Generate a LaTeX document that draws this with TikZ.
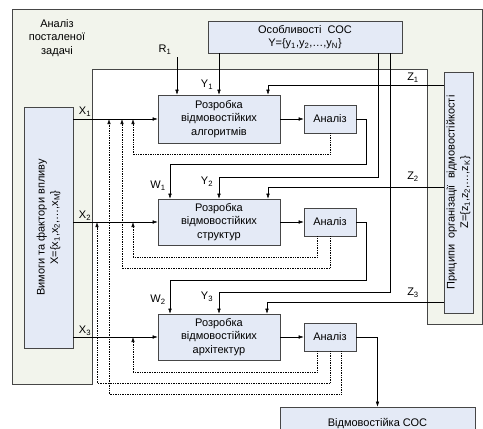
\documentclass[tikz,border=0pt]{standalone}
\usepackage{fontspec}
\setmainfont{Liberation Sans}
\usepackage{tikz}
\usetikzlibrary{arrows.meta, positioning, calc}
\definecolor{boxblue}{RGB}{228,234,246}
\definecolor{framegreen}{RGB}{242,244,236}
\definecolor{edgegrey}{RGB}{70,70,70}

\begin{document}
\begin{tikzpicture}[x=1pt, y=-1pt, >={Latex[length=5pt,width=3.5pt]},
    every node/.style={font=\fontsize{11}{13.5}\selectfont},
    blk/.style={draw=edgegrey, fill=boxblue, line width=0.7pt, inner sep=0pt, align=center},
    lbl/.style={inner sep=1pt},
    fb/.style={densely dotted, line width=0.7pt}]
    \useasboundingbox (0,0) rectangle (483,429);
    \clip (0,0) rectangle (483,429);

    \draw[edgegrey, fill=framegreen, line width=0.8pt] (12,9) -- (482,9) -- (482,324) -- (427,324) -- (427,69) -- (92,69) -- (92,384) -- (12,384) -- cycle;
    \node[align=center] (task) at (57,38) {Аналіз\\посталеної\\задачі};

    \node[blk, minimum width=194pt, minimum height=32pt] (sos) at (305,37) {Особливості~~СОС\\Y=\{y\textsubscript{1},y\textsubscript{2},…,y\textsubscript{N}\}};
    \node[blk, rotate=90, minimum width=241pt, minimum height=49pt] (vym) at (48.5,227.5) {Вимоги та фактори впливу\\X=\{x\textsubscript{1},x\textsubscript{2},…,x\textsubscript{M}\}};
    \node[blk, rotate=90, minimum width=241pt, minimum height=29pt] (pr) at (458.5,192.5) {Приципи~~організації~~відмовостійкості\\Z=\{z\textsubscript{1},z\textsubscript{2},…,z\textsubscript{K}\}};

    \node[blk, minimum width=122pt, minimum height=48pt] (r1) at (219,119) {Розробка\\відмовостійких\\алгоритмів};
    \node[blk, minimum width=122pt, minimum height=46pt] (r2) at (219,222) {Розробка\\відмовостійких\\структур};
    \node[blk, minimum width=122pt, minimum height=46pt] (r3) at (219,337) {Розробка\\відмовостійких\\архітектур};

    \node[blk, minimum width=52pt, minimum height=28pt] (a1) at (330,119) {Аналіз};
    \node[blk, minimum width=52pt, minimum height=28pt] (a2) at (330,222) {Аналіз};
    \node[blk, minimum width=52pt, minimum height=28pt] (a3) at (330,337) {Аналіз};

    \node[blk, minimum width=195pt, minimum height=34pt] (res) at (377.5,424) {Відмовостійка СОС};

    \node[lbl] (lr1) at (165,50) {R\textsubscript{1}};
    \node[lbl] (ly1) at (207,85) {Y\textsubscript{1}};
    \node[lbl] (ly2) at (207,182) {Y\textsubscript{2}};
    \node[lbl] (ly3) at (207,297) {Y\textsubscript{3}};
    \node[lbl] (lw1) at (158,186) {W\textsubscript{1}};
    \node[lbl] (lw2) at (158,300) {W\textsubscript{2}};
    \node[lbl] (lx1) at (85,112) {X\textsubscript{1}};
    \node[lbl] (lx2) at (85,216) {X\textsubscript{2}};
    \node[lbl] (lx3) at (85,331) {X\textsubscript{3}};
    \node[lbl] (lz1) at (413,78) {Z\textsubscript{1}};
    \node[lbl] (lz2) at (413,177) {Z\textsubscript{2}};
    \node[lbl] (lz3) at (413,293) {Z\textsubscript{3}};

    \coordinate (r1in) at (177,57);
    \coordinate (c2) at (378,177);
    \coordinate (c3) at (390,292);
    \coordinate (z1) at (268,85);
    \coordinate (z2) at (268,187);
    \coordinate (z3) at (267,302);
    \coordinate (w1) at (170,164);
    \coordinate (w2) at (170,280);
    \coordinate (f1) at (97,0);
    \coordinate (f2) at (109,0);
    \coordinate (f3) at (122,0);
    \coordinate (f4) at (133,0);

    \draw[->] (r1in) -- (r1in |- r1.north);
    \draw[->] (sos.south -| r1.north) -- (r1.north);
    \draw[->] (sos.south -| c2) -- (c2) -| (r2.north);
    \draw[->] (sos.south -| c3) -- (c3) -| (r3.north);

    \draw[->] (pr.north |- z1) -- (z1) -- (z1 |- r1.north);
    \draw[->] (pr.north |- z2) -- (z2) -- (z2 |- r2.north);
    \draw[->] (pr.north |- z3) -- (z3) -- (z3 |- r3.north);

    \draw[->] (vym.south |- r1.west) -- (r1.west);
    \draw[->] (vym.south |- r2.west) -- (r2.west);
    \draw[->] (vym.south |- r3.west) -- (r3.west);

    \draw[->] (r1.east) -- (a1.west);
    \draw[->] (r2.east) -- (a2.west);
    \draw[->] (r3.east) -- (a3.west);

    \draw[->] (a1.east) -- ++(10,0) |- (w1) -- (w1 |- r2.north);
    \draw[->] (a2.east) -- ++(10,0) |- (w2) -- (w2 |- r3.north);
    \draw[->] (a3.east) -| (res.north);

    \draw[fb,->] (a1.south) -- ++(0,21) -| (f4 |- r1.west);
    \draw[fb,->] ($(a2.south)+(-13,0)$) -- ++(0,21) -| (f4 |- r2.west);
    \draw[fb,->] (a2.south) -- ++(0,32) -| (f3 |- r1.west);
    \draw[fb,->] ($(a3.south)+(-13,0)$) -- ++(0,21) -| (f4 |- r3.west);
    \draw[fb,->] (a3.south) -- ++(0,32) -| (f1 |- r2.west);
    \draw[fb,->] ($(a3.south)+(11,0)$) -- ++(0,43) -| (f2 |- r1.west);
\end{tikzpicture}
\end{document}
